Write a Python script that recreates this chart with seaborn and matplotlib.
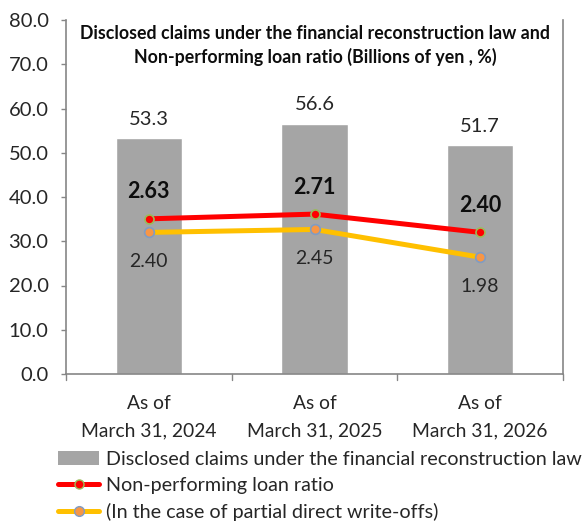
import matplotlib
matplotlib.use("Agg")
import matplotlib.pyplot as plt
import seaborn as sns
import pandas as pd
from matplotlib.lines import Line2D
from matplotlib.patches import Patch

categories = ["As of\nMarch 31, 2024", "As of\nMarch 31, 2025", "As of\nMarch 31, 2026"]
claims = [53.3, 56.6, 51.7]
npl_ratio = [2.63, 2.71, 2.40]
npl_ratio_writeoff = [2.40, 2.45, 1.98]
yticks = [0, 10, 20, 30, 40, 50, 60, 70, 80]

title = ("Disclosed claims under the financial reconstruction law and\n"
         "Non-performing loan ratio (Billions of yen , %)")
leg_labels = ["Disclosed claims under the financial reconstruction law",
              "Non-performing loan ratio",
              "(In the case of partial direct write-offs)"]

sns.set_theme(style="white")
plt.rcParams['font.family'] = ['Lato', 'DejaVu Sans']

fig = plt.figure(figsize=(5.87, 5.21), dpi=100)
ax = fig.add_axes([66/587, 1-374/521, (563-66)/587, (374-20)/521])

df = pd.DataFrame({"cat": categories, "claims": claims,
                   "npl": npl_ratio, "npl2": npl_ratio_writeoff})
sns.barplot(data=df, x="cat", y="claims", color="#A5A5A5", saturation=1,
            width=0.4, ax=ax)
ax.set_ylim(0, 80)
ax.set_xlim(-0.5, 2.5)
ax.set_yticks(yticks)
ax.set_yticklabels([f"{v:.1f}" for v in yticks], fontsize=14.5, color="#262626")
ax.set_xlabel("")
ax.set_ylabel("")
ax.set_xticks([0, 1, 2])
ax.set_xticklabels(categories, fontsize=13.9, color="#262626", linespacing=1.75)
ax.tick_params(axis='x', length=0, pad=15)
ax.tick_params(axis='y', length=3.6, width=1, color="#868686", direction='out', left=True, pad=9)
for b in [0.5, 1.5, 2.5, -0.5]:
    ax.plot([b, b], [0, -1.4], color="#868686", lw=1, clip_on=False, zorder=5)
for s in ["left", "bottom", "right"]:
    ax.spines[s].set_color("#868686")
    ax.spines[s].set_linewidth(1.2)
ax.spines["top"].set_visible(False)

for i, v in enumerate(claims):
    ax.annotate(f"{v:.1f}", (i, v), xytext=(0, 13.7), textcoords="offset points",
                ha="center", va="center", fontsize=14.5, color="#262626")

ax2 = ax.twinx()
ax2.set_ylim(0, 6)
ax2.set_yticks([])
for s in ax2.spines.values():
    s.set_visible(False)
sns.lineplot(data=df, x="cat", y="npl", ax=ax2, color="#FF0000", lw=3.6,
             marker="o", markersize=6.5, markerfacecolor="#FF0000",
             markeredgecolor="#9BBB59", markeredgewidth=1.2, sort=False)
sns.lineplot(data=df, x="cat", y="npl2", ax=ax2, color="#FFC000", lw=3.6,
             marker="o", markersize=7, markerfacecolor="#F79646",
             markeredgecolor="#7F9CC4", markeredgewidth=1.2, sort=False)
ax2.set_ylabel("")
ax2.set_xlim(-0.5, 2.5)
for i, v in enumerate(npl_ratio):
    ax2.annotate(f"{v:.2f}", (i, v), xytext=(0, 19.5), textcoords="offset points",
                 ha="center", va="center", fontsize=15.5, fontweight="bold", color="#0D0D0D")
for i, v in enumerate(npl_ratio_writeoff):
    ax2.annotate(f"{v:.2f}", (i, v), xytext=(0, -21), textcoords="offset points",
                 ha="center", va="center", fontsize=14, color="#262626")

fig.text(315/587, 1-45.5/521, title, ha="center", va="center",
         fontsize=12.8, fontweight="bold", color="#0D0D0D", linespacing=1.4)

handles = [Patch(facecolor="#A5A5A5", edgecolor="none"),
           Line2D([], [], color="#FF0000", lw=3.6, marker="o", markersize=6.5,
                  markerfacecolor="#FF0000", markeredgecolor="#9BBB59"),
           Line2D([], [], color="#FFC000", lw=3.6, marker="o", markersize=7,
                  markerfacecolor="#F79646", markeredgecolor="#7F9CC4")]
fig.legend(handles, leg_labels, loc="upper left", bbox_to_anchor=(58/587, 1-451/521),
           frameon=False, fontsize=14.2, handlelength=2.1, handletextpad=0.35,
           labelspacing=0.45, borderaxespad=0, borderpad=0, labelcolor="#262626")

fig.savefig("out.png", dpi=100)
